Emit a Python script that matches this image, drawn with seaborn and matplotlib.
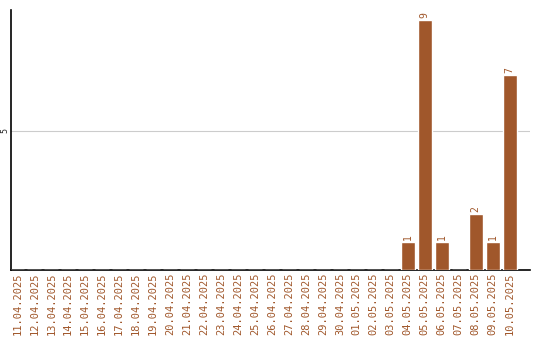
import matplotlib
matplotlib.use("Agg")
import matplotlib.pyplot as plt
import seaborn as sns
import pandas as pd

dates = ["11.04.2025", "12.04.2025", "13.04.2025", "14.04.2025", "15.04.2025",
         "16.04.2025", "17.04.2025", "18.04.2025", "19.04.2025", "20.04.2025",
         "21.04.2025", "22.04.2025", "23.04.2025", "24.04.2025", "25.04.2025",
         "26.04.2025", "27.04.2025", "28.04.2025", "29.04.2025", "30.04.2025",
         "01.05.2025", "02.05.2025", "03.05.2025", "04.05.2025", "05.05.2025",
         "06.05.2025", "07.05.2025", "08.05.2025", "09.05.2025", "10.05.2025"]
counts = [0, 0, 0, 0, 0, 0, 0, 0, 0, 0,
          0, 0, 0, 0, 0, 0, 0, 0, 0, 0,
          0, 0, 0, 1, 9, 1, 0, 2, 1, 7]

color = "#A0572B"
df = pd.DataFrame({"date": dates, "count": counts})

sns.set_style("white")
fig = plt.figure(figsize=(5.4, 3.4), dpi=100)
ax = fig.add_axes([11 / 540, 70 / 340, 519 / 540, 260 / 340])

sns.barplot(data=df, x="date", y="count", color=color, saturation=1,
            width=0.82, ax=ax, zorder=3)

for i, v in enumerate(counts):
    if v > 0:
        ax.text(i, v + 0.08, str(v), rotation=90, ha="center", va="bottom",
                color=color, fontsize=7, family="DejaVu Sans Mono")

ax.set_xlim(-0.37, 30.2)
ax.set_ylim(0, 9.35)
ax.set_yticks([5])
ax.set_yticklabels(["5"], rotation=90, va="center", fontsize=6,
                   family="DejaVu Sans Mono")
ax.yaxis.grid(True, color="#cccccc", linewidth=0.8, zorder=0)
ax.tick_params(axis="x", length=0, pad=2)
ax.tick_params(axis="y", length=0, pad=1)
ax.set_xticks(range(len(dates)))
ax.set_xticklabels(dates, rotation=90, fontsize=7.5, color=color,
                   family="DejaVu Sans Mono", va="top")
ax.set_xlabel("")
ax.set_ylabel("")
for side in ("top", "right"):
    ax.spines[side].set_visible(False)
for side in ("left", "bottom"):
    ax.spines[side].set_color("black")
    ax.spines[side].set_linewidth(1.2)

fig.savefig("out.png", dpi=100)
